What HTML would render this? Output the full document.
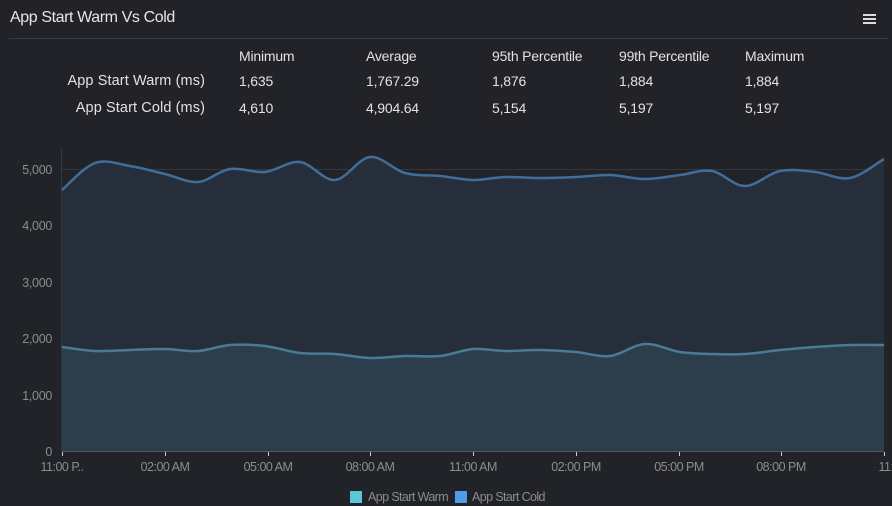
<!DOCTYPE html>
<html><head><meta charset="utf-8"><style>
body{margin:0;width:892px;height:506px;background:#222328;overflow:hidden;font-family:"Liberation Sans",sans-serif;color:#e6e6e6;position:relative}
.t{position:absolute;left:10px;top:9px;font-size:16px;letter-spacing:-0.4px}
.hr{position:absolute;left:9px;right:4px;top:38px;height:1px;background:#393b40}
.menu{position:absolute;left:863px;top:14px;width:13px}
.menu i{display:block;height:2px;background:#ddd;margin-bottom:2px}
.c{position:absolute;font-size:14px;letter-spacing:-0.2px;color:#e2e2e2}
.r{text-align:right;width:200px;letter-spacing:0.1px;font-size:14.5px}
</style></head><body>
<div class="t">App Start Warm Vs Cold</div>
<div class="menu"><i></i><i></i><i></i></div>
<div class="hr"></div>
<div class="c" style="left:239px;top:48px">Minimum</div>
<div class="c" style="left:366px;top:48px">Average</div>
<div class="c" style="left:492px;top:48px">95th Percentile</div>
<div class="c" style="left:619px;top:48px">99th Percentile</div>
<div class="c" style="left:745px;top:48px">Maximum</div>
<div class="c r" style="left:5px;top:73px">App Start Warm (ms)</div>
<div class="c" style="left:239px;top:73px">1,635</div>
<div class="c" style="left:366px;top:73px">1,767.29</div>
<div class="c" style="left:492px;top:73px">1,876</div>
<div class="c" style="left:619px;top:73px">1,884</div>
<div class="c" style="left:745px;top:73px">1,884</div>
<div class="c r" style="left:5px;top:100px">App Start Cold (ms)</div>
<div class="c" style="left:239px;top:100px">4,610</div>
<div class="c" style="left:366px;top:100px">4,904.64</div>
<div class="c" style="left:492px;top:100px">5,154</div>
<div class="c" style="left:619px;top:100px">5,197</div>
<div class="c" style="left:745px;top:100px">5,197</div>
<svg width="892" height="506" style="position:absolute;left:0;top:0" font-family="Liberation Sans,sans-serif">
<g stroke="#34373d" stroke-width="1">
<line x1="62" x2="884" y1="169.5" y2="169.5"/><line x1="62" x2="884" y1="225.5" y2="225.5"/>
<line x1="62" x2="884" y1="282.5" y2="282.5"/><line x1="62" x2="884" y1="338.5" y2="338.5"/>
<line x1="62" x2="884" y1="395.5" y2="395.5"/>
<line x1="61.5" x2="61.5" y1="148" y2="451"/>
</g>
<path id="cf" fill="#262e3b"/>
<path id="wf" fill="#2c3e4c"/>
<path id="cl" fill="none" stroke="#3f6e9b" stroke-width="2.5"/>
<path id="wl" fill="none" stroke="#4a7b94" stroke-width="2.5"/>
<line x1="62" x2="884" y1="451.5" y2="451.5" stroke="#555" />
<g fill="#8a8c90" font-size="12.5" text-anchor="end" letter-spacing="-0.3">
<text x="52" y="174">5,000</text><text x="52" y="230">4,000</text><text x="52" y="287">3,000</text>
<text x="52" y="343">2,000</text><text x="52" y="400">1,000</text><text x="52" y="456">0</text>
</g>
<g stroke="#ccc" id="ticks"></g>
<g fill="#8a8c90" font-size="12.5" text-anchor="middle" letter-spacing="-0.5">
<text x="62" y="471">11:00 P..</text><text x="165" y="471">02:00 AM</text><text x="268" y="471">05:00 AM</text>
<text x="370" y="471">08:00 AM</text><text x="473" y="471">11:00 AM</text><text x="576" y="471">02:00 PM</text>
<text x="679" y="471">05:00 PM</text><text x="781" y="471">08:00 PM</text><text x="886" y="471">11:</text>
</g>
<rect x="350" y="491" width="12" height="12" fill="#5bc8d6"/>
<rect x="455" y="491" width="12" height="12" fill="#4f9ce8"/>
<g fill="#8a8c90" font-size="12.5" letter-spacing="-0.6"><text x="368" y="501">App Start Warm</text><text x="472" y="501">App Start Cold</text></g>
</svg>
<script>
var xs=[62,95,130,165,198,230,265,300,335,370,405,440,473,505,540,576,610,645,680,712,745,780,815,850,884];
var cy=[190,163,166,174,182,169,172,162,180,157,173,176,180,177,178,177,175,179,175,171,186,171,172,178,159];
var wy=[347,351,350,349,351,345,346,353,354,358,356,356,349,351,350,352,356,344,352,354,354,350,347,345,345];
function sp(y){var d="M"+xs[0]+","+y[0];for(var i=0;i<xs.length-1;i++){var p0=i?i-1:0,p3=Math.min(i+2,xs.length-1);
var c1x=xs[i]+(xs[i+1]-xs[p0])/6,c1y=y[i]+(y[i+1]-y[p0])/6,c2x=xs[i+1]-(xs[p3]-xs[i])/6,c2y=y[i+1]-(y[p3]-y[i])/6;
d+=" C"+c1x+","+c1y+" "+c2x+","+c2y+" "+xs[i+1]+","+y[i+1];}return d;}
var c=sp(cy),w=sp(wy);
document.getElementById('cl').setAttribute('d',c);document.getElementById('wl').setAttribute('d',w);
document.getElementById('cf').setAttribute('d',c+" L884,451 L62,451Z");
document.getElementById('wf').setAttribute('d',w+" L884,451 L62,451Z");
var t="";[62,165,268,370,473,576,679,781,884].forEach(function(x){t+='<line x1="'+(x+.5)+'" x2="'+(x+.5)+'" y1="452" y2="456"/>';});
document.getElementById('ticks').innerHTML=t;
</script>
</body></html>
